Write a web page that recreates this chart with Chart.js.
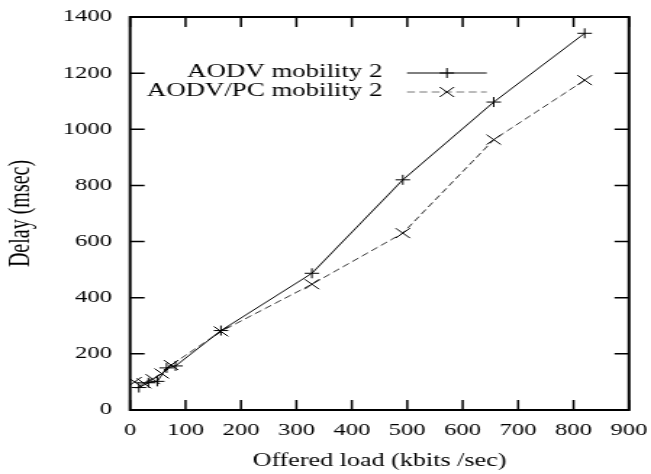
<!DOCTYPE html>
<html>
<head>
<meta charset="utf-8">
<script src="https://cdn.jsdelivr.net/npm/chart.js@4/dist/chart.umd.min.js"></script>
<style>
  html, body { margin: 0; padding: 0; background: #fff; overflow: hidden; }
  #wrap { width: 449px; height: 474px; transform: scaleX(1.45); transform-origin: 0 0; }
</style>
</head>
<body>
<div id="wrap"><canvas id="chart" width="449" height="474"></canvas></div>
<script>
// offered load (kbits/sec) and delay (msec)
const aodvLoad = [16, 33, 49, 66, 82, 164, 328, 492, 656, 820];
const aodvDelay = [80, 97, 102, 150, 157, 283, 487, 820, 1097, 1342];
const pcLoad = [8, 25, 41, 57, 74, 164, 328, 492, 656, 820];
const pcDelay = [100, 95, 110, 130, 160, 280, 448, 630, 963, 1175];

const xTicks = [0, 100, 200, 300, 400, 500, 600, 700, 800, 900];
const yTicks = [0, 200, 400, 600, 800, 1000, 1200, 1400];

const seriesNames = ['AODV mobility 2', 'AODV/PC mobility 2'];

const serif = "'Liberation Serif', 'Times New Roman', serif";

function toPoints(xs, ys) {
    return xs.map((x, i) => ({ x: x, y: ys[i] }));
}

// gnuplot style frame with inward ticks
const framePlugin = {
    id: 'frame',
    beforeDatasetsDraw(chart) {
        const { ctx, chartArea: a, scales } = chart;
        ctx.save();
        ctx.strokeStyle = '#000';
        ctx.lineWidth = 1.5;
        ctx.beginPath();
        xTicks.forEach(v => {
            const px = scales.x.getPixelForValue(v);
            ctx.moveTo(px, a.bottom); ctx.lineTo(px, a.bottom - 10);
            ctx.moveTo(px, a.top); ctx.lineTo(px, a.top + 10);
        });
        yTicks.forEach(v => {
            const py = scales.y.getPixelForValue(v);
            ctx.moveTo(a.left, py); ctx.lineTo(a.left + 10, py);
            ctx.moveTo(a.right, py); ctx.lineTo(a.right - 10, py);
        });
        ctx.stroke();
        ctx.lineWidth = 2;
        ctx.strokeRect(a.left, a.top, a.right - a.left, a.bottom - a.top);
        ctx.restore();
    }
};

// legend: right aligned text, sample line on the right
const keyPlugin = {
    id: 'key',
    afterDraw(chart) {
        const { ctx, chartArea: a } = chart;
        const textX = a.left + 174;
        const x0 = a.left + 191, x1 = a.left + 246;
        const xm = (x0 + x1) / 2;
        const rows = [a.top + 55, a.top + 74];
        ctx.save();
        ctx.font = '18.5px ' + serif;
        ctx.fillStyle = '#000';
        ctx.textAlign = 'right';
        ctx.textBaseline = 'middle';
        seriesNames.forEach((name, i) => ctx.fillText(name, textX, rows[i]));

        ctx.strokeStyle = '#000';
        ctx.lineWidth = 1;
        ctx.beginPath();
        ctx.moveTo(x0, rows[0] + 1); ctx.lineTo(x1, rows[0] + 1);
        ctx.moveTo(xm - 5, rows[0] + 1); ctx.lineTo(xm + 5, rows[0] + 1);
        ctx.moveTo(xm, rows[0] - 4); ctx.lineTo(xm, rows[0] + 6);
        ctx.stroke();

        ctx.strokeStyle = '#777';
        ctx.setLineDash([5.5, 3]);
        ctx.beginPath();
        ctx.moveTo(x0, rows[1] + 1); ctx.lineTo(x1, rows[1] + 1);
        ctx.stroke();
        ctx.setLineDash([]);
        ctx.strokeStyle = '#000';
        ctx.beginPath();
        ctx.moveTo(xm - 5, rows[1] - 4); ctx.lineTo(xm + 5, rows[1] + 6);
        ctx.moveTo(xm - 5, rows[1] + 6); ctx.lineTo(xm + 5, rows[1] - 4);
        ctx.stroke();
        ctx.restore();
    }
};

new Chart(document.getElementById('chart'), {
    type: 'line',
    data: {
        datasets: [
            {
                label: seriesNames[0],
                data: toPoints(aodvLoad, aodvDelay),
                borderColor: '#000',
                borderWidth: 1,
                pointStyle: 'cross',
                pointRadius: 5,
                pointBorderWidth: 1,
                pointBorderColor: '#000',
                tension: 0
            },
            {
                label: seriesNames[1],
                data: toPoints(pcLoad, pcDelay),
                borderColor: '#333',
                borderWidth: 1,
                borderDash: [5.5, 3],
                pointStyle: 'crossRot',
                pointRadius: 7,
                pointBorderWidth: 1,
                pointBorderColor: '#000',
                tension: 0
            }
        ]
    },
    options: {
        responsive: false,
        animation: false,
        devicePixelRatio: 1,
        layout: { padding: { top: 17, right: 15.2, left: 0, bottom: 0 } },
        plugins: { legend: { display: false }, tooltip: { enabled: false } },
        scales: {
            x: {
                type: 'linear',
                min: 0,
                max: 900,
                afterFit: s => { s.height = 64; s.paddingLeft = 0; s.paddingRight = 0; },
                afterBuildTicks: s => { s.ticks = xTicks.map(v => ({ value: v })); },
                grid: { display: false, drawTicks: false },
                border: { display: false },
                ticks: {
                    color: '#000', padding: 10, maxRotation: 0,
                    font: { family: serif, size: 17 },
                    callback: v => String(v)
                },
                title: {
                    display: true,
                    text: 'Offered load (kbits /sec)',
                    color: '#000',
                    padding: { top: 0, bottom: 2 },
                    font: { family: serif, size: 18 }
                }
            },
            y: {
                min: 0,
                max: 1400,
                afterFit: s => { s.width = 89.7; s.paddingTop = 0; s.paddingBottom = 0; },
                afterBuildTicks: s => { s.ticks = yTicks.map(v => ({ value: v })); },
                grid: { display: false, drawTicks: false },
                border: { display: false },
                ticks: {
                    color: '#000', padding: 12.5,
                    font: { family: serif, size: 17 },
                    callback: v => String(v)
                },
                title: {
                    display: true,
                    text: 'Delay (msec)',
                    color: '#000',
                    padding: { top: 3, bottom: 0 },
                    font: { family: serif, size: 20 }
                }
            }
        }
    },
    plugins: [framePlugin, keyPlugin]
});
</script>
</body>
</html>
